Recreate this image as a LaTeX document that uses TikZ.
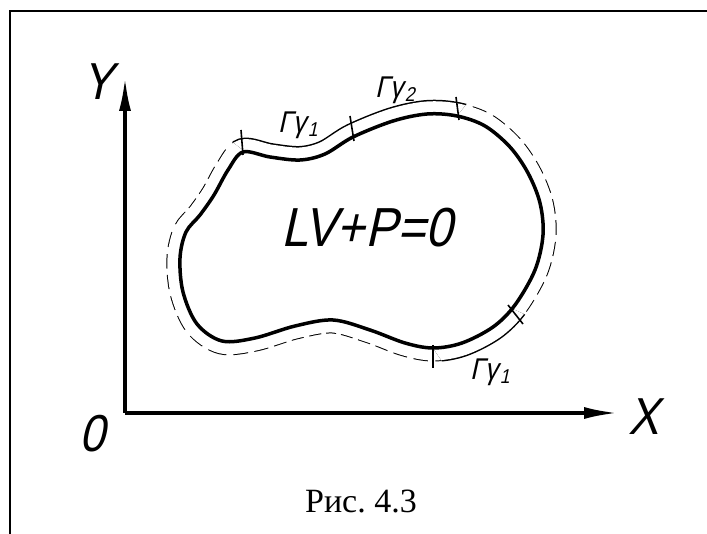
\documentclass[tikz,border=0pt]{standalone}
\usepackage{fontspec}
\usetikzlibrary{arrows.meta}
\newfontfamily\gost[FakeStretch=0.88,FakeSlant=0.22]{Liberation Sans}
\newfontfamily\capfont{Liberation Serif}
\def\blobpath{plot[smooth cycle,tension=0.55] coordinates {(243,152) (270,157) (300,160) (325,154) (353,137) (393,121) (427,114) (457,116) (485,126) (510,147) (528,173) (540,203) (543,235) (535,270) (515,305) (493,327) (462,343) (433,348) (405,343) (370,330) (333,320) (295,326) (255,338) (222,341) (197,324) (183,292) (180,258) (186,232) (200,215) (214,195) (228,170)}}
\def\gsub#1{Γγ\kern2pt\raisebox{-0.25ex}{\fontsize{20}{20}\selectfont #1}}
\begin{document}
\begin{tikzpicture}[x=1pt,y=-1pt,
  axis/.style={line width=3.5pt,line join=miter,-{Latex[length=34pt,width=12pt]}},
  contour/.style={line width=3.5pt,line join=round},
  tick/.style={line width=1.6pt},
  lbl/.style={inner sep=0pt,anchor=base,font=\gost\fontsize{52}{52}\selectfont},
  glbl/.style={inner sep=0pt,anchor=base,font=\gost\fontsize{30}{30}\selectfont},
  frameline/.style={line width=2pt}]
\useasboundingbox (0,0) rectangle (707,534);
% frame
\draw[frameline] (10,534) -- (10,11) -- (707,11);
% axes
\coordinate (O) at (125,413);
\coordinate (ytip) at (125,77);
\coordinate (xtip) at (618,413);
\draw[axis] (O) -- (ytip);
\draw[axis] (O) -- (xtip);
\node[lbl] (Y) at (98,100) {Y};
\node[lbl] (X) at (644,435) {X};
\node[lbl] (zero) at (92,452) {0};
% dashed outer contour
\draw[line width=27pt,dash pattern=on 13pt off 6pt] \blobpath;
\draw[white,line width=25pt] \blobpath;
% solid outer contour on top segment
\begin{scope}
\clip (360,240) -- (9,-30) -- (360,-300) -- (651,-132) -- cycle;
\draw[white,line width=30pt] \blobpath;
\draw[line width=28pt] \blobpath;
\draw[white,line width=25pt] \blobpath;
\end{scope}
% solid outer contour on bottom-right segment
\begin{scope}
\clip (360,240) -- (579,564) -- (825,564) -- (825,450) -- cycle;
\draw[white,line width=30pt] \blobpath;
\draw[line width=28pt] \blobpath;
\draw[white,line width=25pt] \blobpath;
\end{scope}
\fill[white] \blobpath;
\draw[contour] \blobpath;
% ticks
\coordinate (t1a) at (243,155); \coordinate (t1b) at (241,130);
\coordinate (t2a) at (354,141); \coordinate (t2b) at (350,116);
\coordinate (t3a) at (459,120); \coordinate (t3b) at (456,97);
\coordinate (t4a) at (433,345); \coordinate (t4b) at (433,368);
\coordinate (t5a) at (508,305); \coordinate (t5b) at (523,324);
\draw[tick] (t1a) -- (t1b);
\draw[tick] (t2a) -- (t2b);
\draw[tick] (t3a) -- (t3b);
\draw[tick] (t4a) -- (t4b);
\draw[tick] (t5a) -- (t5b);
% labels
\node[glbl] (g1) at (298,133) {\gsub{1}};
\node[glbl] (g2) at (395,98) {\gsub{2}};
\node[glbl] (g3) at (490,380) {\gsub{1}};
\node[lbl,font=\gost\fontsize{55}{55}\selectfont] (eq) at (367,247) {LV+P=0};
\node[inner sep=0pt,anchor=base,font=\capfont\fontsize{34}{34}\selectfont] (cap) at (361,512) {Рис.~4.3};
\end{tikzpicture}
\end{document}
